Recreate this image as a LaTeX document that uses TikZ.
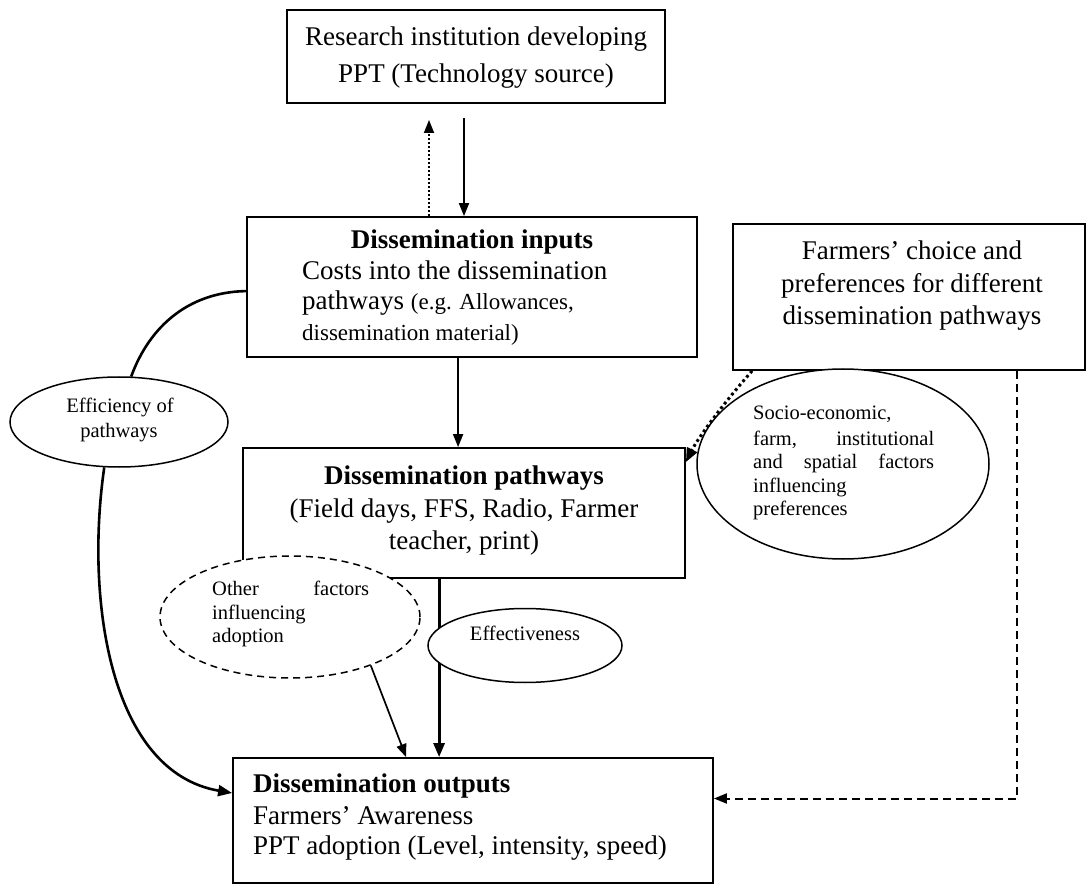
\documentclass[tikz,border=0pt]{standalone}
\usepackage{fontspec}
\setmainfont{Liberation Serif}
\usetikzlibrary{arrows.meta,calc,shapes.geometric}
\tikzset{
  box/.style={draw, line width=1.8pt, rectangle, inner sep=0pt},
  oval/.style={draw, ellipse, line width=1.5pt, fill=white, inner sep=0pt},
  big/.style={font=\fontsize{27}{33}\selectfont, inner sep=0pt},
  mid/.style={font=\fontsize{23}{27}\selectfont, inner sep=0pt},
  small/.style={font=\fontsize{20.5}{24}\selectfont, inner sep=0pt},
  arr/.style={-{Triangle[length=13pt,width=10pt]}, line width=1.7pt},
  thickarr/.style={-{Triangle[length=14pt,width=11pt]}, line width=2.8pt},
}
\begin{document}
\begin{tikzpicture}[x=1pt,y=-1pt]
\useasboundingbox (0,0) rectangle (1088,893);

% Technology source
\node[box, minimum width=378, minimum height=93] (src) at (476,56.5) {};
\node[big, anchor=mid] (srcA) at (476,43) {Research institution developing};
\node[big, anchor=mid] (srcB) at (476,80) {PPT (Technology source)};

% Dissemination inputs
\node[box, minimum width=450, minimum height=140] (inp) at (472,287) {};
\node[big, anchor=mid] (inpA) at (472,246) {\textbf{Dissemination inputs}};
\node[big, anchor=mid west] (inpB) at (302,277) {Costs into the dissemination};
\node[big, anchor=mid west] (inpC) at (302,307) {pathways {\fontsize{23}{27}\selectfont (e.g. Allowances,}};
\node[mid, anchor=mid west] (inpD) at (302,338) {dissemination material)};

% Farmers' choice
\node[box, minimum width=352, minimum height=146] (farm) at (909,297) {};
\node[big, anchor=mid] (farmA) at (912,257) {Farmers’ choice and};
\node[big, anchor=mid] (farmB) at (912,290) {preferences for different};
\node[big, anchor=mid] (farmC) at (912,322) {dissemination pathways};

% Dissemination pathways
\node[box, minimum width=442, minimum height=130] (pw) at (464,513) {};
\node[big, anchor=mid] (pwA) at (464,482) {\textbf{Dissemination pathways}};
\node[big, anchor=mid] (pwB) at (464,515) {(Field days, FFS, Radio, Farmer};
\node[big, anchor=mid] (pwC) at (464,547) {teacher, print)};

% Dissemination outputs
\node[box, minimum width=480, minimum height=125] (out) at (473,820.5) {};
\node[big, anchor=mid west] (outA) at (253,790) {\textbf{Dissemination outputs}};
\node[big, anchor=mid west] (outB) at (253,822) {Farmers’ Awareness};
\node[big, anchor=mid west] (outC) at (253,852) {PPT adoption (Level, intensity, speed)};

% thick line pathways -> outputs (behind Effectiveness ellipse)
\draw[thickarr] ($(pw.south west)+(197,0)$) -- ($(out.north west)+(207,0)$);

% Efficiency ellipse
\node[oval, minimum width=218, minimum height=90] (eff) at (119,422) {};
\node[small, anchor=mid] (effA) at (120,410) {Efficiency of};
\node[small, anchor=mid] (effB) at (119,435) {pathways};

% Socio-economic ellipse
\node[oval, minimum width=292, minimum height=190] (soc) at (843,464) {};
\node[small, anchor=mid west] (socA) at (753,417) {Socio-economic,};
\node[small, anchor=mid west] (socB) at (753,443) {\makebox[181pt][s]{farm, institutional}};
\node[small, anchor=mid west] (socC) at (753,466) {\makebox[181pt][s]{and spatial factors}};
\node[small, anchor=mid west] (socD) at (753,490) {influencing};
\node[small, anchor=mid west] (socE) at (753,513) {preferences};

% Other factors ellipse (dashed)
\node[oval, dash pattern=on 7pt off 5pt, minimum width=260, minimum height=122] (oth) at (290,617) {};
\node[small, anchor=mid west] (othA) at (212,593) {\makebox[157pt][s]{Other factors}};
\node[small, anchor=mid west] (othB) at (212,617) {influencing};
\node[small, anchor=mid west] (othC) at (212,640) {adoption};

% Effectiveness ellipse
\node[oval, minimum width=194, minimum height=74] (effc) at (525,645.5) {};
\node[small, anchor=mid] (effcA) at (525,638) {Effectiveness};

% Connectors
\coordinate (upEnd) at (429,120);
\draw[arr, line width=1.8pt, dash pattern=on 1.8pt off 2.2pt] (inp.north -| upEnd) -- (upEnd);
\coordinate (dnStart) at (464,118);
\draw[arr] (dnStart) -- (dnStart |- inp.north);

\draw[arr] ($(inp.south west)+(212,0)$) -- ($(pw.north west)+(216,0)$);

\draw[arr] (oth.-31) -- ($(out.north west)+(174,0)$);

% efficiency curve
\draw[line width=2.6pt] ($(inp.north west)+(0,75)$) .. controls (190,292) and (150,325) .. (eff.75);
\draw[thickarr, line width=2.6pt] (eff.-108) .. controls (85,600) and (110,772) .. ($(out.west)+(0,-27.5)$);

% dotted arrow from farmers' choice to pathways
\draw[-{Triangle[length=14pt,width=11pt]}, line width=3pt, dash pattern=on 2.8pt off 3pt]
  ($(farm.south west)+(20,0)$) .. controls (722,405) and (698,438) .. ($(pw.north east)+(0,15)$);

% dashed line from farmers' choice to outputs
\draw[arr, line width=2pt, dash pattern=on 8pt off 5pt]
  ($(farm.south west)+(285,0)$) |- ($(out.east)+(0,-22)$);
\end{tikzpicture}
\end{document}
